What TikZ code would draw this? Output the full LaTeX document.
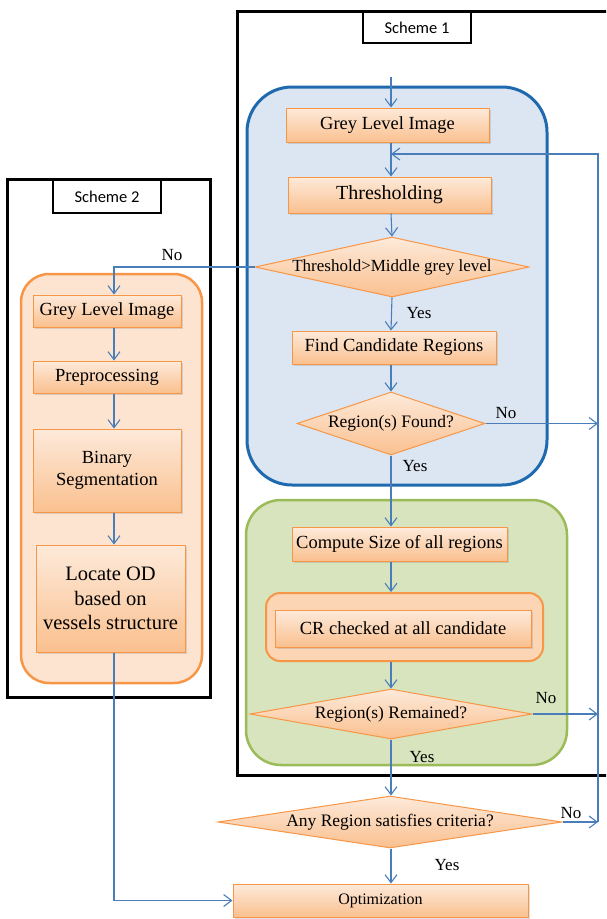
\documentclass[tikz,border=0pt]{standalone}
\usepackage{fontspec}
\setmainfont{Liberation Serif}
\newfontfamily\flowfont{Liberation Serif}
\newfontfamily\schemefont{Carlito}
\usepackage{tikz}
\usetikzlibrary{arrows.meta, shapes.geometric, shadows}

\definecolor{flowblue}{RGB}{74,126,187}
\definecolor{boxline}{RGB}{247,150,70}
\definecolor{boxtop}{RGB}{253,234,218}
\definecolor{boxbot}{RGB}{250,192,143}
\definecolor{bluefill}{RGB}{220,230,242}
\definecolor{blueline}{RGB}{31,106,174}
\definecolor{greenfill}{RGB}{215,228,189}
\definecolor{greenline}{RGB}{155,187,89}
\definecolor{orangefill}{RGB}{252,213,181}
\definecolor{orangelight}{RGB}{253,228,208}

\begin{document}
\begin{tikzpicture}[x=1pt, y=-1pt,
        procbox/.style={draw=boxline, line width=1pt, top color=boxtop, bottom color=boxbot, inner sep=0pt, align=center,
          drop shadow={opacity=0.25, shadow xshift=1.5pt, shadow yshift=-2pt}},
        decision/.style={diamond, draw=boxline, line width=1pt, top color=boxtop, bottom color=boxbot, inner sep=0pt, align=center},
        region/.style={rounded corners=#1, inner sep=0pt},
        schemeframe/.style={draw=black, line width=3pt, inner sep=0pt},
        schemetag/.style={draw=black, line width=1.2pt, fill=white, inner sep=0pt, font=\schemefont\fontsize{16.5}{18}\selectfont},
        arrow/.style={-{Straight Barb[length=8pt, width=12pt]}, draw=flowblue, line width=1.1pt},
        lbl/.style={font=\flowfont\fontsize{17}{19}\selectfont},
        every node/.style={font=\flowfont\fontsize{18.5}{22}\selectfont}
      ]
        \useasboundingbox (0,0) rectangle (606,919);
        \clip (0,0) rectangle (606,919);

        % Frames of the two schemes
        \node[schemeframe, minimum width=403pt, minimum height=764pt] (scheme1) at (438.5,393) {};
        \node[schemeframe, minimum width=203pt, minimum height=518pt] (scheme2) at (108.5,438) {};
        \node[schemetag, minimum width=108pt, minimum height=31pt] (tag1) at (417,27.5) {Scheme 1};
        \node[schemetag, minimum width=108pt, minimum height=33pt] (tag2) at (107,196.5) {Scheme 2};

        % Coloured regions
        \node[region=45pt, draw=blueline, line width=3pt, fill=bluefill, minimum width=300pt, minimum height=398pt] (blueregion) at (397,286) {};
        \node[region=35pt, draw=greenline, line width=2.5pt, fill=greenfill, minimum width=321pt, minimum height=265pt] (greenregion) at (406.5,632.5) {};
        \node[region=14pt, draw=boxline, line width=2pt, fill=orangefill, minimum width=277pt, minimum height=68pt] (crregion) at (404.5,627) {};
        \node[region=28pt, draw=boxline, line width=2.5pt, fill=orangelight, minimum width=181pt, minimum height=409pt] (s2region) at (111.5,478.5) {};

        % Scheme 1
        \node[procbox, minimum width=203pt, minimum height=34pt] (grey1) at (387.5,125) {Grey Level Image};
        \node[procbox, minimum width=203pt, minimum height=36pt, font=\flowfont\fontsize{20}{22}\selectfont] (thresh) at (389.5,195) {Thresholding};
        \node[decision, aspect=4.57, minimum width=274pt, minimum height=60pt, font=\flowfont\fontsize{17}{19}\selectfont] (thr) at (392,267) {Threshold>Middle grey level};
        \node[procbox, minimum width=204pt, minimum height=33pt] (find) at (394,347.5) {Find Candidate Regions};
        \node[decision, aspect=3, minimum width=188pt, minimum height=63pt, font=\flowfont\fontsize{17.5}{19}\selectfont] (found) at (391,423.5) {Region(s) Found?};
        \node[procbox, minimum width=215pt, minimum height=34pt] (compute) at (399.5,544) {Compute Size of all regions};
        \node[procbox, minimum width=256pt, minimum height=37pt] (crcheck) at (403,628.5) {CR checked at all candidate};
        \node[decision, aspect=5.64, minimum width=282pt, minimum height=50pt, font=\flowfont\fontsize{17.5}{19}\selectfont] (remained) at (391,714) {Region(s) Remained?};
        \node[decision, aspect=6.6, minimum width=344pt, minimum height=52pt, font=\flowfont\fontsize{17.5}{19}\selectfont] (anyreg) at (390,822) {Any Region satisfies criteria?};
        \node[procbox, minimum width=295pt, minimum height=33pt, font=\flowfont\fontsize{16}{18}\selectfont] (opt) at (380.5,900.5) {Optimization};

        % Scheme 2
        \node[procbox, minimum width=148pt, minimum height=32pt] (grey2) at (107,311) {Grey Level Image};
        \node[procbox, minimum width=148pt, minimum height=32pt] (prep) at (107,377) {Preprocessing};
        \node[procbox, minimum width=148pt, minimum height=83pt] (binseg) at (107,470.5) {Binary\\Segmentation};
        \node[procbox, minimum width=149pt, minimum height=107pt, font=\flowfont\fontsize{20.5}{24.5}\selectfont] (locate) at (110.5,598.5) {Locate OD\\based on\\vessels structure};

        % Labels
        \node[lbl] (no1) at (172,255) {No};
        \node[lbl] (yes1) at (419,313) {Yes};
        \node[lbl] (no2) at (506,413) {No};
        \node[lbl] (yes2) at (415,466) {Yes};
        \node[lbl] (no3) at (546,698) {No};
        \node[lbl] (yes3) at (422,757) {Yes};
        \node[lbl] (no4) at (571,813) {No};
        \node[lbl] (yes4) at (447,865) {Yes};

        \coordinate (col) at (391,0);
        \coordinate (col2) at (114,0);
        \coordinate (loopx) at (598,0);
        \coordinate (start) at (391,77);
        \coordinate (loopin) at (391,154);

        % Connections of scheme 1
        \draw[arrow] (start) -- (grey1.north -| start);
        \draw[arrow] (grey1.south -| col) -- (thresh.north -| col);
        \draw[arrow] (thresh.south -| col) -- (thr.north);
        \draw[arrow] (thr.south) -- (find.north -| col);
        \draw[arrow] (find.south -| col) -- (found.north);
        \draw[arrow] (found.south) -- (compute.north -| col);
        \draw[arrow] (compute.south -| col) -- (crregion.north -| col);
        \draw[arrow] (crregion.south -| col) -- (remained.north);
        \draw[arrow] (remained.south) -- (anyreg.north -| col);
        \draw[arrow] (anyreg.south -| col) -- (opt.north -| col);

        % Loop back
        \draw[arrow] (found.east) -- (found.east -| loopx);
        \draw[arrow] (remained.east) -- (remained.east -| loopx);
        \draw[arrow] (anyreg.east) -- (anyreg.east -| loopx);
        \draw[arrow] (anyreg.east -| loopx) -- (loopin -| loopx) -- (loopin);

        % Connections of scheme 2
        \draw[arrow] (thr.west) -- (thr.west -| col2) -- (grey2.north -| col2);
        \draw[arrow] (grey2.south -| col2) -- (prep.north -| col2);
        \draw[arrow] (prep.south -| col2) -- (binseg.north -| col2);
        \draw[arrow] (binseg.south -| col2) -- (locate.north -| col2);
        \draw[arrow] (locate.south -| col2) -- (col2 |- opt.west) -- (opt.west);

    \end{tikzpicture}
\end{document}
